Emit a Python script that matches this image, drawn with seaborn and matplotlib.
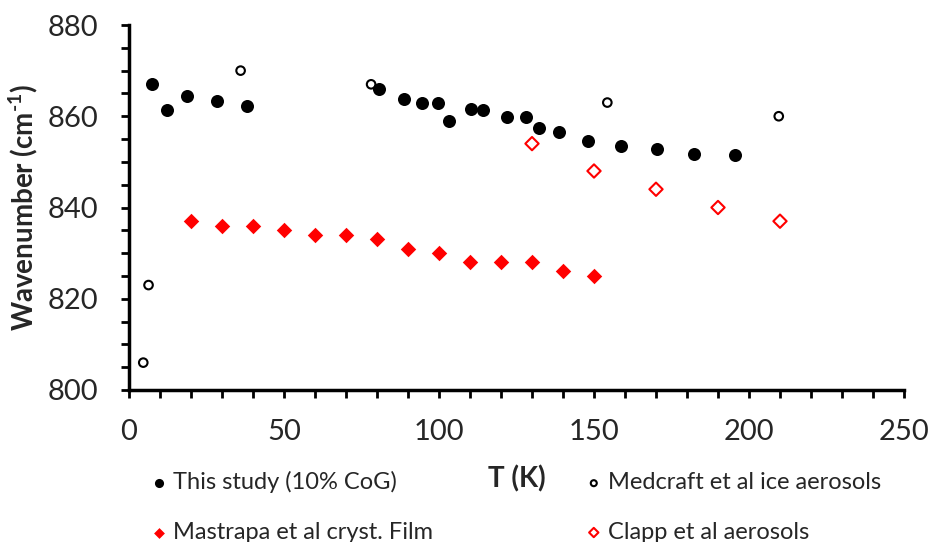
import numpy as np
import pandas as pd
import seaborn as sns
import matplotlib.pyplot as plt

# data
study_T = [7.4, 12.2, 18.7, 28.4, 38.1, 80.6, 88.8, 94.4, 99.8, 103.3, 110.3, 114.3,
           121.9, 128.0, 132.1, 138.8, 148.2, 158.6, 170.4, 182.4, 195.5]
study_wn = [867.1, 861.4, 864.4, 863.3, 862.2, 866.0, 863.7, 862.8, 863.0, 859.0, 861.5,
            861.4, 859.9, 859.8, 857.5, 856.6, 854.6, 853.4, 852.9, 851.8, 851.6]
medcraft_T = [4.6, 6.3, 36.0, 78.1, 154.3, 209.6]
medcraft_wn = [806, 823, 870, 867, 863, 860]
mastrapa_T = [20, 30, 40, 50, 60, 70, 80, 90, 100, 110, 120, 130, 140, 150]
mastrapa_wn = [837, 836, 836, 835, 834, 834, 833, 831, 830, 828, 828, 828, 826, 825]
clapp_T = [130, 150, 170, 190, 210]
clapp_wn = [854, 848, 844, 840, 837]

sns.set_style("ticks")
plt.rcParams['font.family'] = ['Lato', 'DejaVu Sans']
plt.rcParams['mathtext.fontset'] = 'custom'
plt.rcParams['mathtext.rm'] = 'Lato:bold'
plt.rcParams['mathtext.bf'] = 'Lato:bold'
plt.rcParams['mathtext.it'] = 'Lato:bold'

fig = plt.figure(figsize=(9.34, 5.42), dpi=100)
ax = fig.add_axes([129 / 934, 1 - 390 / 542, 775 / 934, 365 / 542])

sns.scatterplot(x=study_T, y=study_wn, ax=ax, marker='o', s=88, color='black',
                edgecolor='black', linewidth=0, label='This study (10% CoG)')
sns.scatterplot(x=mastrapa_T, y=mastrapa_wn, ax=ax, marker='D', s=62, color='red',
                edgecolor='red', linewidth=0, label='Mastrapa et al cryst. Film')
sns.scatterplot(x=medcraft_T, y=medcraft_wn, ax=ax, marker='o', s=38, facecolor='none',
                edgecolor='black', linewidth=1.5, label='Medcraft et al ice aerosols')
sns.scatterplot(x=clapp_T, y=clapp_wn, ax=ax, marker='D', s=46, facecolor='none',
                edgecolor='red', linewidth=1.5, label='Clapp et al aerosols')

ax.set_xlim(0, 250)
ax.set_ylim(800, 880)
ax.set_xticks(np.arange(0, 251, 50))
ax.set_xticks(np.arange(0, 251, 10), minor=True)
ax.set_yticks(np.arange(800, 881, 20))
ax.set_yticks(np.arange(800, 881, 5), minor=True)
ax.tick_params(which='both', direction='out', length=6, width=2, color='black')
ax.tick_params(which='major', labelsize=21)
ax.tick_params(axis='x', which='major', pad=15)
ax.tick_params(axis='y', which='major', pad=16)
sns.despine(ax=ax)
for sp in ['left', 'bottom']:
    ax.spines[sp].set_linewidth(2.5)
    ax.spines[sp].set_color('black')

ax.set_ylabel(r'Wavenumber (cm$^{\text{-1}}$)', fontsize=20, fontweight='bold')
ax.yaxis.set_label_coords(-0.115, 0.5)
ax.set_xlabel('')
fig.text(517 / 934, 1 - 479 / 542, 'T (K)', fontsize=20, fontweight='bold',
         ha='center', va='center')

handles, labels = ax.get_legend_handles_labels()
ax.get_legend().remove()
fig.legend(handles, labels, ncol=2, loc='center left', frameon=False,
           bbox_to_anchor=(126 / 934, 1 - 507 / 542), fontsize=17,
           handletextpad=0.1, handlelength=1.0, markerscale=0.7,
           columnspacing=6.3, labelspacing=1.2)

fig.savefig('out.png', dpi=100)
